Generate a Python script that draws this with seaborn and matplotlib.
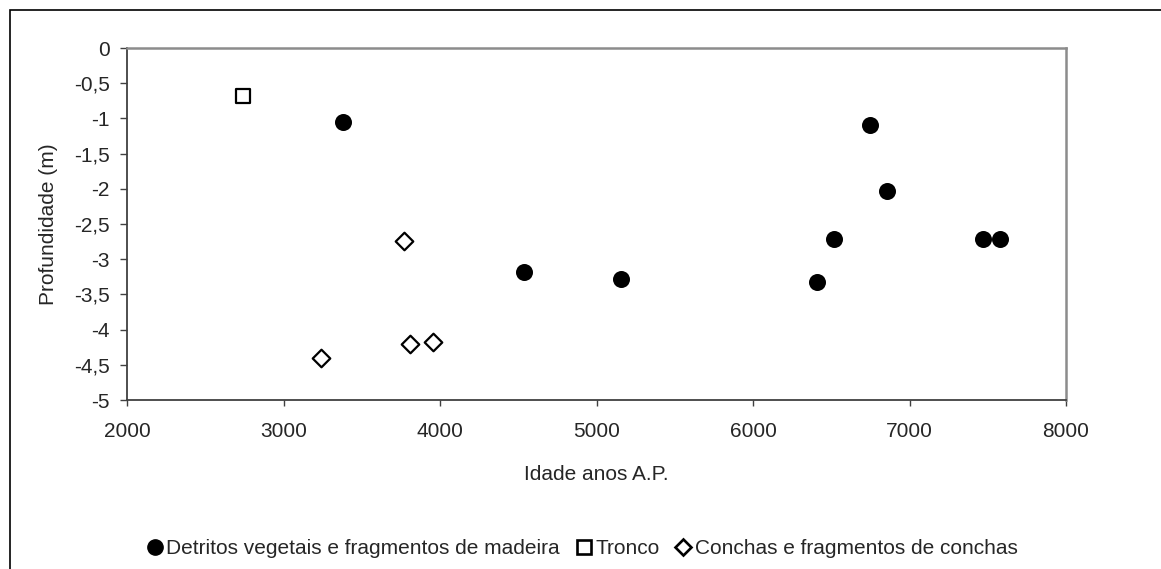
import numpy as np
import pandas as pd
import matplotlib
matplotlib.use("Agg")
import matplotlib.pyplot as plt
from matplotlib.patches import Rectangle
from matplotlib.lines import Line2D
import seaborn as sns

# data
detritos_idade = [3380, 4535, 5155, 6407, 6518, 6746, 6856, 7468, 7577]
detritos_prof = [-1.05, -3.18, -3.28, -3.33, -2.71, -1.10, -2.03, -2.72, -2.72]
tronco_idade = [2740]
tronco_prof = [-0.68]
conchas_idade = [3238, 3768, 3806, 3953]
conchas_prof = [-4.41, -2.74, -4.20, -4.17]

series_names = ["Detritos vegetais e fragmentos de madeira", "Tronco",
                "Conchas e fragmentos de conchas"]
x_ticks = [2000, 3000, 4000, 5000, 6000, 7000, 8000]
y_ticks = [0, -0.5, -1, -1.5, -2, -2.5, -3, -3.5, -4, -4.5, -5]

df = pd.concat([
    pd.DataFrame({"idade": detritos_idade, "prof": detritos_prof, "tipo": series_names[0]}),
    pd.DataFrame({"idade": tronco_idade, "prof": tronco_prof, "tipo": series_names[1]}),
    pd.DataFrame({"idade": conchas_idade, "prof": conchas_prof, "tipo": series_names[2]}),
])

sns.set_style("white")
plt.rcParams['font.family'] = ['Liberation Sans', 'DejaVu Sans']
FS = 15

fig = plt.figure(figsize=(11.61, 5.69), dpi=100)
ax = fig.add_axes([127 / 1161, 1 - 400 / 569, (1066 - 127) / 1161, (400 - 48) / 569])

styles = {
    series_names[0]: dict(marker="o", color="black", edgecolor="black", s=150, linewidth=0),
    series_names[1]: dict(marker="s", color="white", edgecolor="black", s=110, linewidth=1.6),
    series_names[2]: dict(marker="D", color="white", edgecolor="black", s=80, linewidth=1.6),
}
for name in series_names:
    sub = df[df["tipo"] == name]
    sns.scatterplot(data=sub, x="idade", y="prof", ax=ax, legend=False, zorder=3,
                    **styles[name])

ax.set_xlim(2000, 8000)
ax.set_ylim(-5, 0)
ax.set_xticks(x_ticks)
ax.set_xticklabels([str(v) for v in x_ticks])
ax.set_yticks(y_ticks)
ax.set_yticklabels([("%g" % v).replace(".", ",") for v in y_ticks])
ax.tick_params(axis="both", labelsize=FS, direction="out", width=1,
               color="#404040", bottom=True, left=True)
ax.tick_params(axis="x", length=4, pad=12)
ax.tick_params(axis="y", length=5, pad=7.5)

for side in ["left", "bottom"]:
    ax.spines[side].set_color("#404040")
    ax.spines[side].set_linewidth(1.3)
for side in ["top", "right"]:
    ax.spines[side].set_visible(True)
    ax.spines[side].set_color("#8c8c8c")
    ax.spines[side].set_linewidth(1.8)

ax.set_xlabel("Idade anos A.P.", fontsize=FS, labelpad=17)
ax.set_ylabel("Profundidade (m)", fontsize=FS, labelpad=11)

handles = [
    Line2D([], [], linestyle="none", marker="o", markersize=11, markerfacecolor="black",
           markeredgecolor="black"),
    Line2D([], [], linestyle="none", marker="s", markersize=10.5, markerfacecolor="white",
           markeredgecolor="black", markeredgewidth=1.9),
    Line2D([], [], linestyle="none", marker="D", markersize=8, markerfacecolor="white",
           markeredgecolor="black", markeredgewidth=1.9),
]
fig.legend(handles, series_names, loc="center", bbox_to_anchor=(0.5, 1 - 549 / 569),
           ncol=3, frameon=False, fontsize=FS, handletextpad=0.0, columnspacing=0.6,
           handlelength=1.1)

# outer chart border (runs past the right/bottom edge like the reference crop)
fig.patches.append(Rectangle((9.5 / 1161, -0.1), 2, 1.1 - 10 / 569,
                             transform=fig.transFigure, fill=False, edgecolor="black",
                             linewidth=1.2))

fig.savefig("out.png", dpi=100)
